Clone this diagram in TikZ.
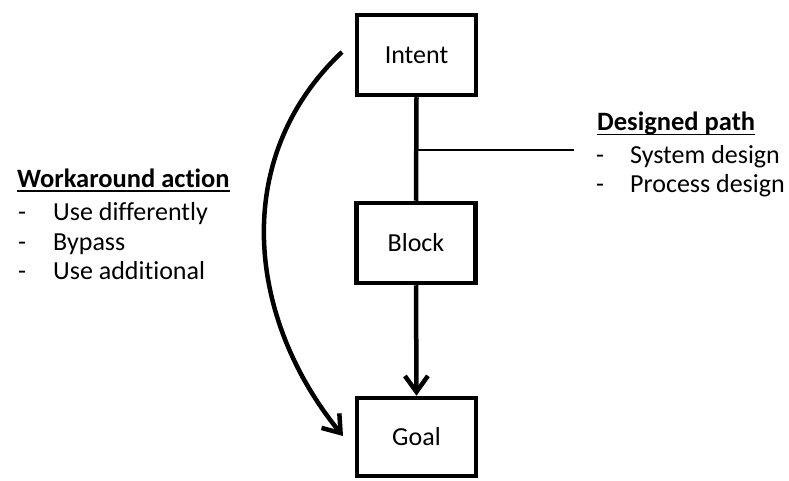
\documentclass[tikz,border=0pt]{standalone}
\usepackage{fontspec}
\setmainfont{Carlito}[Ligatures={NoCommon}]
\usetikzlibrary{arrows.meta}
\begin{document}
\begin{tikzpicture}[x=1pt,y=-1pt,
  box/.style={draw,line width=4.5pt,minimum width=119pt,minimum height=80pt,inner sep=0pt,font=\fontsize{26}{30}\selectfont},
  txt/.style={inner sep=0pt,anchor=base west,font=\fontsize{26}{30}\selectfont},
  head/.style={txt,font=\fontsize{26.5}{30}\selectfont\bfseries},
  conn/.style={line width=4.5pt},
  thin/.style={line width=2pt},
  uline/.style={line width=1.4pt},
  tipd/.style={-{Straight Barb[length=16pt,width=23pt]}}]
\useasboundingbox (0,0) rectangle (789,481);
% boxes
\node[box] (intent) at (416.5,55) {Intent};
\node[box] (block) at (416,243) {Block};
\node[box,minimum height=78pt] (goal) at (416.5,437) {Goal};
% designed path
\draw[conn] (intent.south) -- (block.north);
\coordinate (j) at (416,150);
\coordinate (je) at (574,150);
\draw[thin] (j) -- (je);
\draw[conn,tipd] (block.south) -- (goal.north);
% workaround curve
\coordinate (cs) at (342,52);
\coordinate (ce) at (343,436);
\draw[conn,tipd] (cs) .. controls (228,160) and (249,321) .. (ce);
% texts
\node[head] (wh) at (17,188) {Workaround action};
\draw[uline] ([yshift=-3pt]wh.base west) -- ([yshift=-3pt]wh.base east);
\node[txt] (w1) at (18,220) {\makebox[35pt][l]{-}Use differently};
\node[txt] (w2) at (18,250) {\makebox[35pt][l]{-}Bypass};
\node[txt] (w3) at (18,279) {\makebox[35pt][l]{-}Use additional};
\node[head] (dh) at (597,131) {Designed path};
\draw[uline] ([yshift=-3.5pt]dh.base west) -- ([yshift=-3.5pt]dh.base east);
\node[txt] (d1) at (596,164) {\makebox[34pt][l]{-}System design};
\node[txt] (d2) at (596,193) {\makebox[34pt][l]{-}Process design};
\end{tikzpicture}
\end{document}
